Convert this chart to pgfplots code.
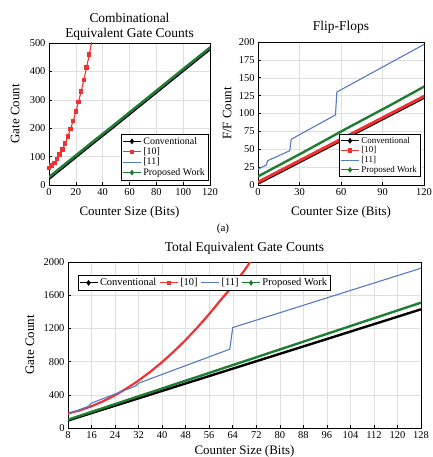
\documentclass[border=0pt]{standalone}
\usepackage{fontspec}
\setmainfont{Liberation Serif}
\usepackage{pgfplots}
\pgfplotsset{compat=1.18}

\definecolor{cred}{RGB}{238,50,50}
\definecolor{cblue}{RGB}{85,120,200}
\definecolor{cgreen}{RGB}{30,125,50}

\pgfplotsset{
  panel/.style={
    scale only axis, anchor=south west,
    axis line style={black, line width=0.6pt},
    grid=major, grid style={gray!25, line width=0.4pt},
    tick align=inside, tick pos=left,
    major tick length=3bp,
    tick style={black, line width=0.5pt},
    ticklabel style={font=\fontsize{10.5}{12}\selectfont},
    /pgf/number format/assume math mode=true,
    /pgf/number format/1000 sep={},
    label style={font=\fontsize{13}{15}\selectfont},
    title style={font=\fontsize{13.5}{16}\selectfont, align=center, inner sep=0pt,
      anchor=south, at={(axis description cs:0.5,1)}},
    legend cell align=left,
    legend style={draw=black, line width=0.5pt, fill=white, inner sep=1pt,
      font=\fontsize{10}{11}\selectfont, row sep=-2pt},
    legend image code/.code={\draw[mark repeat=2, mark phase=2, ##1, line width=0.9pt]
      plot coordinates {(0bp,0bp) (9bp,0bp) (18bp,0bp)};},
  },
  conv/.style={black, line width=2.4pt,
    legend image post style={mark=diamond*, mark size=2.2pt}},
  prop/.style={cgreen, line width=2.4pt,
    legend image post style={mark=diamond*, mark size=2.2pt}},
  ref11/.style={cblue, line width=1.1pt},
}

\begin{document}
\begin{tikzpicture}
\useasboundingbox (0,0) rectangle (433bp,457bp);

% Combinational equivalent gate counts
\begin{axis}[panel, at={(49bp,272bp)}, width=161bp, height=142bp,
  xmin=0, xmax=120, ymin=0, ymax=500,
  xtick={0,20,...,120}, ytick={0,100,...,500},
  title={Combinational\\Equivalent Gate Counts},
  title style={yshift=-4bp},
  xlabel={Counter Size (Bits)}, ylabel={Gate Count},
  xlabel style={at={(axis description cs:0.5,-0.19)}, anchor=center},
  ylabel style={at={(axis description cs:-0.21,0.5)}, anchor=center},
  legend style={at={(0.988,0.035)}, anchor=south east},
]
\addplot[conv] coordinates {
  (0,22) (16,83) (32,144) (48,204) (64,265) (80,326) (96,387) (112,448) (128,508)
};
\addlegendentry{Conventional}
\addplot[cred, line width=1.1pt, mark=square*, mark size=1.7pt,
  mark options={solid, fill=cred, draw=cred}] coordinates {
  (0,60) (2,68) (4,78) (6,91) (8,107) (10,125) (12,146) (14,170) (16,197)
  (18,226) (20,258) (22,293) (24,330) (26,370) (28,413) (30,459) (32,507)
};
\addlegendentry{\relax[10]}
\addplot[ref11] coordinates {
  (0,25) (16,86) (32,147) (48,207) (64,268) (80,329) (96,390) (112,451) (128,511)
};
\addlegendentry{\relax[11]}
\addplot[prop] coordinates {
  (0,28) (16,89) (32,150) (48,210) (64,271) (80,332) (96,393) (112,454) (128,514)
};
\addlegendentry{Proposed Work}
\end{axis}

% Flip-flops
\begin{axis}[panel, at={(258bp,272bp)}, width=166bp, height=143bp,
  xmin=0, xmax=120, ymin=0, ymax=200,
  xtick={0,30,...,120}, ytick={0,25,...,200},
  title={Flip-Flops},
  title style={yshift=2bp},
  xlabel={Counter Size (Bits)}, ylabel={F/F Count},
  xlabel style={at={(axis description cs:0.5,-0.189)}, anchor=center},
  ylabel style={at={(axis description cs:-0.186,0.5)}, anchor=center},
  legend style={at={(0.976,0.056)}, anchor=south east,
    font=\fontsize{9}{10}\selectfont},
]
\addplot[conv] coordinates {(0,2) (32,34) (64,66) (96,98) (128,130)};
\addlegendentry{Conventional}
\addplot[cred, line width=3pt,
  legend image post style={mark=square*, mark size=1.8pt}] coordinates {
  (0,4) (32,36) (64,68) (96,100) (128,132)
};
\addlegendentry{\relax[10]}
\addplot[ref11] coordinates {
  (0,22) (6,28) (7,34) (23,48) (24,64) (56,98) (57,130) (128,205)
};
\addlegendentry{\relax[11]}
\addplot[prop] coordinates {(0,12) (32,45) (64,79) (96,112) (128,146)};
\addlegendentry{Proposed Work}
\end{axis}

\node[font=\fontsize{11}{13}\selectfont] at (223bp,228bp) {(a)};

% Total equivalent gate counts
\begin{axis}[panel, at={(68bp,29bp)}, width=353bp, height=166bp,
  xmin=8, xmax=128, ymin=0, ymax=2000,
  xtick={8,16,...,128}, ytick={0,400,...,2000},
  title={Total Equivalent Gate Counts},
  title style={yshift=1bp},
  xlabel={Counter Size (Bits)}, ylabel={Gate Count},
  xlabel style={at={(axis description cs:0.5,-0.14)}, anchor=center},
  ylabel style={at={(axis description cs:-0.108,0.5)}, anchor=center},
  legend columns=4,
  legend style={at={(0.028,0.92)}, anchor=north west,
    font=\fontsize{10.5}{12}\selectfont,
    /tikz/every even column/.append style={column sep=1bp}},
]
\addplot[conv] coordinates {
  (8,90) (16,180) (32,358) (64,715) (96,1072) (128,1430)
};
\addlegendentry{Conventional}
\addplot[cred, line width=2.2pt,
  legend image post style={mark=square*, mark size=1.8pt}] coordinates {
  (8,174) (12,212) (16,262) (20,323) (24,395) (28,478) (32,572) (36,678)
  (40,794) (44,922) (48,1061) (52,1212) (56,1373) (60,1546) (64,1710)
  (68,1900) (72,2110)
};
\addlegendentry{\relax[10]}
\addplot[ref11] coordinates {
  (8,170) (15,262) (16,300) (31,505) (32,540) (63,950) (64,1210) (128,1925)
};
\addlegendentry{\relax[11]}
\addplot[prop] coordinates {
  (8,100) (16,194) (32,382) (64,758) (96,1134) (128,1510)
};
\addlegendentry{Proposed Work}
\end{axis}
\end{tikzpicture}
\end{document}
